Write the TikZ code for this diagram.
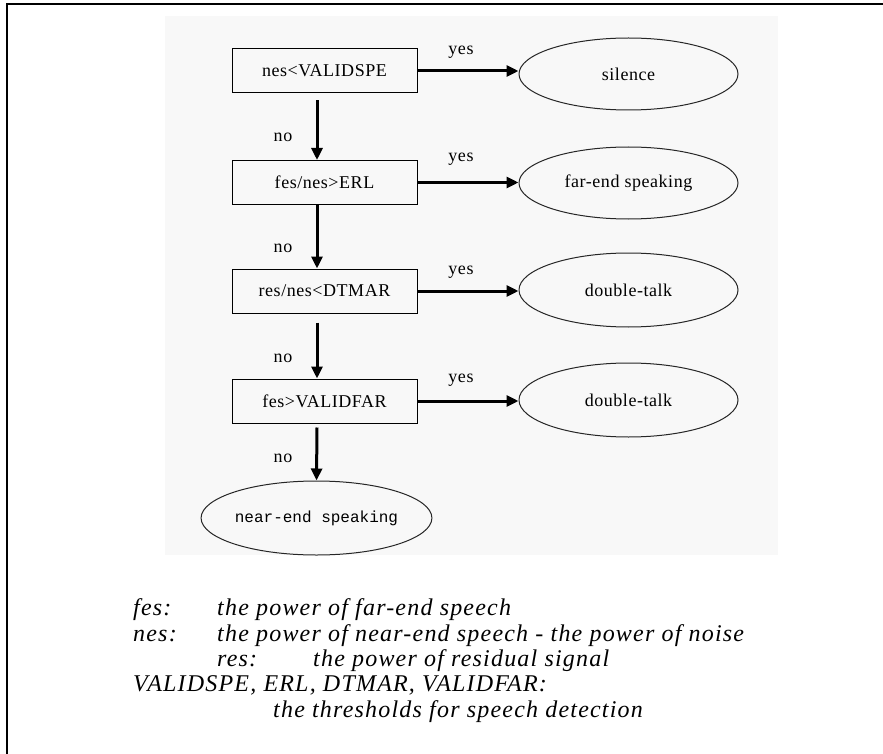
\documentclass[tikz,border=0pt]{standalone}
\usepackage{fontspec}
\setmainfont{Liberation Serif}
\newfontfamily\boxfont[LetterSpace=3]{Liberation Serif}
\newfontfamily\notefont[LetterSpace=5]{Liberation Serif}
\newfontfamily\monofont{Liberation Mono}
\usetikzlibrary{shapes.geometric,arrows.meta}
\definecolor{panelgray}{HTML}{F8F8F8}
\tikzset{
  decision/.style={draw=black, line width=1pt, rectangle, minimum width=185pt,
    minimum height=44pt, inner sep=0pt, font=\boxfont\fontsize{18pt}{20pt}\selectfont},
  outcome/.style={draw=black!85, line width=1pt, ellipse, minimum width=219pt,
    minimum height=72pt, inner sep=0pt, font=\boxfont\fontsize{18pt}{20pt}\selectfont},
  flow/.style={line width=3pt, -{Triangle[length=12pt,width=11pt]}},
  lbl/.style={inner sep=0pt, font=\boxfont\fontsize{18pt}{20pt}\selectfont},
  note/.style={inner sep=0pt, anchor=base west, font=\notefont\itshape\fontsize{24pt}{26pt}\selectfont}
}
\begin{document}
\begin{tikzpicture}[x=1pt,y=-1pt]
\useasboundingbox (0,0) rectangle (883,754);
\clip (0,0) rectangle (883,754);
\fill[panelgray] (165,16) rectangle (778,555);
\draw[line width=2pt] (7,4) rectangle (900,770);

\node[decision] (b1) at (324.5,71) {nes<VALIDSPE\hspace{27pt}};
\node[decision] (b2) at (324.5,182.5) {fes/nes>ERL\hspace{12pt}};
\node[decision] (b3) at (324.5,291) {res/nes<DTMAR\hspace{17pt}};
\node[decision] (b4) at (324.5,401) {fes>VALIDFAR\hspace{11pt}};

\node[outcome] (e1) at (628.5,74) {silence\hspace{28pt}};
\node[outcome] (e2) at (628.5,183) {far-end speaking};
\node[outcome, minimum height=74pt] (e3) at (628.5,290) {double-talk\hspace{22pt}};
\node[outcome, minimum height=74pt] (e4) at (628.5,400) {double-talk\hspace{22pt}};
\node[outcome, minimum width=203pt, minimum height=74pt,
  font=\monofont\fontsize{16pt}{18pt}\selectfont] (e5) at (316.5,518) {near-end speaking};

\coordinate (ax) at (317,0);
\path ([yshift=-7pt]b1.south) coordinate (s1);
\path (b2.south) coordinate (s2);
\path ([yshift=-9pt]b3.south) coordinate (s3);
\path ([yshift=-4pt]b4.south) coordinate (s4);
\draw[flow] (s1 -| ax) -- (b2.north -| ax);
\draw[flow] (s2 -| ax) -- (b3.north -| ax);
\draw[flow] (s3 -| ax) -- (b4.north -| ax);
\draw[flow] (s4 -| ax) -- (e5.north);

\draw[flow] (b1.east) -- (b1.east -| e1.west);
\draw[flow] (b2.east) -- (b2.east -| e2.west);
\draw[flow] (b3.east) -- (b3.east -| e3.west);
\draw[flow] (b4.east) -- (b4.east -| e4.west);

\node[lbl] (y1) at (461,52) {yes};
\node[lbl] (y2) at (461,159) {yes};
\node[lbl] (y3) at (461,272) {yes};
\node[lbl] (y4) at (461,380) {yes};
\node[lbl] (n1) at (283,137) {no};
\node[lbl] (n2) at (283,248) {no};
\node[lbl] (n3) at (283,358) {no};
\node[lbl] (n4) at (283,458) {no};

\node[note] (k1) at (133,615) {fes:};
\node[note] (d1) at (217,615) {the power of far-end speech};
\node[note] (k2) at (133,641) {nes:};
\node[note] (d2) at (217,641) {the power of near-end speech - the power of noise};
\node[note] (k3) at (217,666) {res:};
\node[note] (d3) at (313,666) {the power of residual signal};
\node[note] (k4) at (133,691) {VALIDSPE, ERL, DTMAR, VALIDFAR:};
\node[note] (d4) at (273,717) {the thresholds for speech detection};
\end{tikzpicture}
\end{document}
